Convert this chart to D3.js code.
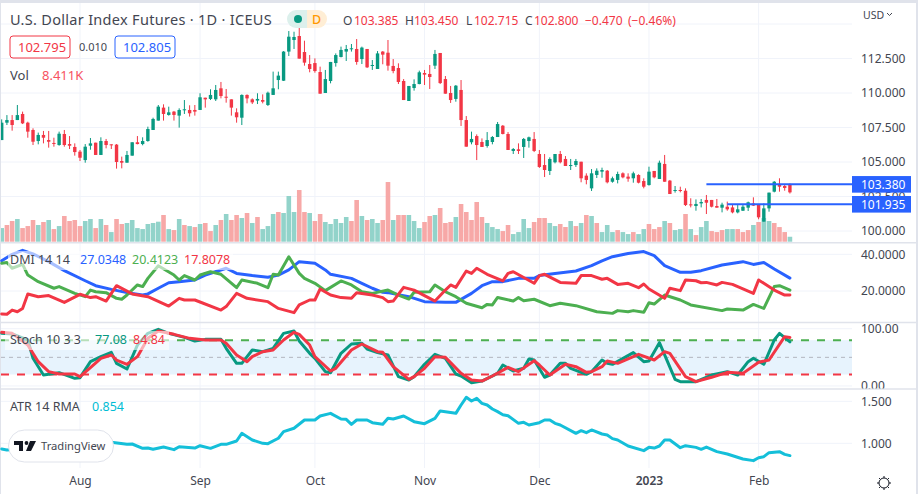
<!DOCTYPE html>
<html>
<head>
<meta charset="utf-8">
<script src="https://cdn.jsdelivr.net/npm/d3@7/dist/d3.min.js"></script>
<style>
html,body{margin:0;padding:0;background:#e0e3eb;overflow:hidden}
svg{display:block}
text{font-family:"Noto Sans",sans-serif}
</style>
</head>
<body>
<svg id="c" width="918" height="494"></svg>
<script>
const opens=[106.59,107.85,108.04,108.04,108.48,107.85,107.32,106.52,106.96,106.59,106.38,106.23,107.03,106.30,106.09,105.75,105.14,106.18,106.40,105.51,106.52,106.28,106.26,105.07,104.95,105.46,106.43,106.30,106.52,107.32,108.00,108.94,108.41,108.65,108.36,108.77,108.77,108.77,108.77,109.66,109.57,109.54,110.34,109.73,109.54,108.60,108.21,109.86,109.54,109.45,109.49,109.13,109.86,110.94,110.89,113.00,113.84,114.13,112.97,112.10,112.17,111.52,110.00,110.87,112.17,112.61,113.00,113.19,113.19,112.46,113.19,111.96,111.74,113.00,112.92,111.96,111.81,110.87,109.42,110.36,110.65,111.45,111.38,111.98,112.90,111.01,110.00,109.57,110.22,108.04,106.43,106.88,106.45,106.16,106.45,106.81,107.63,107.03,105.80,105.92,106.09,106.52,106.67,105.58,104.78,104.35,104.98,105.58,105.22,104.73,104.78,105.02,104.01,103.09,104.06,104.30,104.37,103.57,103.70,104.18,103.94,103.82,104.06,103.62,103.33,104.35,103.77,104.86,103.65,102.90,102.97,102.92,101.93,101.81,102.00,102.25,102.25,101.81,101.69,101.76,101.71,101.35,101.47,101.69,102.00,101.91,100.68,101.64,102.85,103.41,103.26,103.385];
const closes=[107.85,108.04,107.68,108.40,107.80,107.20,106.47,106.96,106.76,106.47,106.33,107.05,106.23,106.18,105.72,105.31,106.11,106.35,105.51,106.52,106.23,106.23,105.00,104.95,105.51,106.43,106.30,106.52,107.39,108.12,109.01,108.48,108.60,108.41,108.77,108.82,108.53,108.65,109.69,109.54,109.86,110.22,109.78,109.69,108.94,108.24,109.86,109.61,109.32,109.57,109.37,110.02,110.34,111.26,113.00,114.08,114.06,112.49,112.20,111.74,111.59,109.95,111.01,112.25,112.75,113.12,113.19,113.24,112.25,113.29,111.86,112.03,112.87,112.78,111.98,111.59,110.80,109.49,110.51,110.65,111.50,111.33,111.16,112.83,110.72,109.95,109.49,110.53,108.04,106.11,106.67,106.23,106.09,106.59,106.81,107.75,107.03,105.87,105.94,105.80,106.67,106.79,105.80,104.64,104.42,105.22,105.58,104.98,104.71,104.78,105.07,103.82,103.70,104.18,104.37,104.42,103.53,103.82,104.13,103.89,103.79,104.18,103.50,103.21,104.30,103.89,104.95,103.57,102.68,102.97,102.90,101.88,101.88,101.96,102.10,102.05,101.76,101.69,101.91,101.57,101.35,101.57,101.76,102.08,101.84,100.99,101.64,102.78,103.57,103.21,103.12,102.80];
const highs=[108.09,108.40,108.40,109.13,108.65,107.92,107.44,107.13,107.25,107.25,106.76,107.20,107.32,106.88,106.35,105.87,106.30,106.74,106.40,106.79,106.67,106.28,106.30,105.39,105.80,106.43,106.88,106.79,107.56,108.21,109.13,109.18,109.01,108.70,108.89,109.49,109.11,109.13,109.98,109.66,110.27,110.58,110.80,110.29,109.54,108.89,109.90,109.90,109.61,109.98,109.90,110.10,111.55,111.55,113.04,114.49,114.44,114.76,113.79,112.75,112.51,111.91,111.67,112.25,112.87,113.36,113.48,113.55,113.91,113.36,113.19,112.39,113.04,113.04,113.84,112.46,112.15,111.01,110.51,110.99,111.62,111.67,112.03,113.12,112.90,111.23,110.51,110.58,110.94,108.33,107.20,107.00,106.71,107.17,106.88,107.90,107.68,107.17,106.01,106.35,106.74,106.84,107.17,105.87,105.58,105.34,105.58,105.80,105.43,105.22,105.22,105.02,104.18,104.49,104.54,104.59,104.42,103.94,104.30,104.25,104.18,104.30,104.11,103.82,104.66,104.35,105.10,105.51,103.70,103.26,103.21,103.09,102.37,102.29,102.32,102.61,102.25,102.32,102.05,102.13,101.88,101.88,101.88,102.13,102.44,101.91,102.00,102.78,103.62,103.82,103.41,103.45];
const lows=[106.59,107.68,107.27,108.04,107.75,106.76,106.23,106.28,106.35,106.04,106.11,106.18,106.11,105.94,105.46,105.07,104.95,105.89,105.51,105.51,105.99,105.94,104.52,104.54,104.95,105.46,106.28,106.21,106.47,107.32,108.00,108.00,108.36,108.00,107.49,108.48,108.29,108.36,108.77,108.94,109.49,109.42,109.61,109.30,108.36,107.85,107.68,109.25,109.20,109.20,109.25,109.06,109.86,110.27,110.87,112.68,113.19,112.49,111.98,111.50,111.47,109.95,110.00,110.70,111.91,112.58,112.32,113.00,112.05,112.10,111.81,111.67,111.74,112.08,111.62,111.43,110.65,109.49,109.42,110.17,110.63,110.58,110.29,111.74,110.65,109.95,109.28,109.37,107.61,106.11,106.28,105.14,106.09,106.04,106.28,106.81,107.00,105.87,105.58,105.58,105.29,106.04,105.72,104.57,103.91,104.06,104.90,104.90,104.71,104.42,104.64,103.53,103.38,102.90,103.84,103.86,103.45,103.50,103.45,103.82,103.57,103.50,103.45,103.09,103.29,103.82,103.77,103.57,102.68,102.78,102.80,101.81,101.71,101.47,101.71,101.23,101.71,101.69,101.35,101.47,101.28,101.28,101.45,101.45,101.81,100.85,100.68,101.40,102.80,102.85,102.92,102.715];
const volumes=[23.2,28.4,35.2,38.6,23.2,26.6,36.9,28.4,33.5,36.9,21.5,26.6,43.7,35.2,36.9,26.6,35.2,38.6,23.2,38.6,28.4,16.4,38.6,30.1,31.8,36.9,23.2,21.5,30.1,31.8,34,45.4,21.5,19.8,38.6,28.4,26.6,24.9,30.1,31.8,18.1,28.4,36.9,47.1,36.9,45.4,40.3,48.8,31.8,42,21.5,26.6,47.1,50.5,48.8,77.7,50.5,87.9,50.5,48.8,35.2,47.1,33.5,30.1,38.6,31.8,42,35.2,70.9,43.7,36.9,38.6,31.8,36.9,101.5,36.9,45.4,45.4,45.4,35.2,23.2,33.5,43.7,45.4,57.3,31.8,33.5,42,64.1,50.5,36.9,67.5,42,31.8,24.9,21.5,18.1,28.4,13,16.4,38.6,23.2,33.5,40.3,40.3,31.8,26.6,30.1,25,35.2,26.6,31.8,45.4,43.7,31.8,16.4,28.4,16.4,19.8,16.4,13,16.4,13,21.5,30.1,21.5,24.9,35.2,31.8,19.8,21.5,47.1,21.5,11.3,24.9,35.2,18.1,16.4,19.8,21.5,21.5,21.5,16.4,19.8,28.4,33.5,40.3,35.2,31.8,24.9,16.4,8.411];
const volumeUp="t s s t s s s t s t s t s s s s t t s t s t s s t t t t t t t s t s t s t s t s s t s t s s t s t s t t t s t t t s s t s s t t t t t s s t s t t s s t s s t t t s s t s s s t s s s s s t t t s s t t t t s s s t t s s t s t s t s t t t s t t s t t s s s t s t t s t s t t s s s t t s s s t s t t s s s t s s t t t s s t s t".split(" ");
const dmiBlue=[[0,36.5],[2,40],[4,42.2],[6,40.2],[9,36],[12,31.1],[16,25.6],[18,22.9],[21,20.9],[24,19.1],[27,17.8],[28,18.4],[30,21.5],[32,24.5],[34,25.1],[37,26],[39,28.7],[43,32.4],[45,29.6],[48,28.4],[51,27.5],[53,28.7],[55,31.5],[57,36],[60,35.1],[62,31.5],[63,29.1],[67,26.9],[69,24.2],[71,21.5],[73,19.3],[74,19.1],[78,16.9],[81,14.2],[85,13.8],[87,13.8],[90,18.7],[92,22.9],[94,25.1],[96,25.1],[99,26.9],[102,26.9],[103,28.4],[106,29.6],[110,30.9],[113,33.8],[115,36.4],[117,38.7],[120,40.5],[123,41.5],[125,39.3],[127,33.8],[130,30.2],[132,30.2],[134,31.1],[138,34.2],[142,36],[144,34.5],[146,35.5],[148,32],[151,27.03]];
const dmiGreen=[[0,35.1],[1,35.5],[2,32.4],[4,34.5],[5,28.7],[7,25.1],[10,21.5],[11,22.4],[14,18.7],[16,16.9],[17,20.5],[18,19.6],[20,19.1],[22,16],[23,15.5],[24,17.8],[26,23.3],[27,22.4],[28,26.9],[30,33.8],[33,28.7],[34,26],[35,28.4],[37,26],[38,28.7],[40,30.5],[42,29.1],[45,21.8],[46,26],[49,24.2],[51,21.8],[52,29.1],[53,28.7],[55,38.7],[57,29.6],[58,26.9],[60,24.2],[62,20.2],[65,25.5],[67,23.3],[69,19.6],[71,18.7],[74,20.5],[76,17.8],[78,15.6],[79,19.3],[82,19.6],[83,23.3],[85,19.6],[87,16.9],[89,13.3],[92,10.9],[93,12.7],[94,12.4],[95,16.5],[98,14.5],[99,16.4],[100,14.7],[102,15.5],[105,12],[107,13.3],[110,12],[114,8.7],[117,7.8],[118,9.3],[120,8.7],[121,9.3],[123,8.4],[124,13.6],[125,12.9],[127,17.8],[130,15.1],[132,12.4],[138,9.3],[139,10.2],[142,9.6],[144,12.7],[146,10.5],[148,22.4],[149,22.9],[151,20.41]];
const dmiRed=[[0,7.5],[1,7.3],[2,9.6],[3,8.7],[4,10.5],[5,18.4],[7,16.9],[9,17.5],[12,13.8],[15,18.2],[17,16.4],[18,16.9],[20,14.5],[22,22.9],[25,18.4],[28,16.9],[32,11.8],[34,16],[35,15.1],[37,15.1],[42,9.6],[43,11.5],[45,18.7],[47,16],[51,14.2],[53,10.5],[56,8.2],[57,12.4],[59,15.1],[60,15.1],[61,21.1],[63,17.8],[65,16.4],[67,16],[68,19.1],[71,17.8],[73,16.4],[74,14.2],[75,14.5],[77,22],[79,20.5],[83,14.5],[85,20.5],[86,23.3],[87,22],[89,30.9],[90,29.6],[91,32.4],[93,29.1],[96,25.5],[97,29.6],[98,30.5],[102,24.2],[103,28.4],[104,29.1],[107,24.7],[110,24.2],[111,28.4],[113,28.4],[115,26.4],[116,26.9],[118,23.6],[120,24.2],[122,21.8],[123,23.8],[124,21.1],[127,16],[128,21.5],[130,20.2],[131,26],[133,25.6],[134,24.5],[135,24.7],[137,23.3],[138,24.7],[140,23.6],[144,18.7],[145,26],[146,24.2],[148,20.5],[150,17.8],[151,17.81]];
const stochK=[[0,91.9],[2,90.8],[5,80.3],[6,48.3],[8,19.1],[9,20.3],[11,23.2],[14,13.3],[15,14.5],[17,42.4],[19,51.2],[21,58.7],[22,39.5],[24,29.6],[26,71.5],[28,91.9],[30,98.9],[32,91.9],[35,84.9],[37,78.5],[39,81.4],[42,81.4],[43,65.7],[45,39.5],[46,39.5],[48,62.8],[50,59.9],[52,65.7],[54,91.9],[56,96],[57,78.5],[59,57],[60,48.3],[62,25],[63,23.2],[65,57],[67,73.3],[69,74.5],[70,64.6],[72,58.2],[74,54.1],[76,16.2],[78,10.4],[79,16.2],[81,37.8],[83,55.2],[85,48.3],[87,20.9],[88,17.4],[90,5.7],[92,8.6],[95,22],[96,36.6],[98,26.1],[100,30.8],[101,47.1],[102,45.3],[104,15.1],[105,19.1],[107,39.5],[108,39.5],[109,30.8],[112,20.3],[113,25],[115,45.3],[116,39.5],[117,37.8],[121,58.2],[123,42.4],[124,43.6],[126,75.6],[129,11.6],[130,7.5],[133,7.5],[136,19.1],[139,25],[141,19.1],[143,42.4],[144,48.3],[146,37.8],[148,80.3],[149,91.9],[151,77.08]];
const stochD=[[0,93.7],[2,91.9],[5,71.5],[7,42.4],[9,25],[11,20.9],[14,20.9],[15,16.2],[17,31.9],[19,48.3],[21,54.1],[22,45.3],[24,37.8],[26,51.2],[28,83.2],[30,96],[33,90.2],[36,83.2],[39,80.3],[42,80.3],[43,74.5],[45,54.1],[47,42.4],[48,51.2],[50,59.9],[52,62.8],[54,80.3],[56,93.7],[57,90.2],[59,71.5],[60,51.2],[63,26.1],[64,30.8],[67,62.8],[69,73.3],[72,59.9],[73,58.7],[75,33.7],[78,11.6],[79,16.2],[81,30.8],[83,51.2],[85,50],[88,22],[90,10.4],[92,8.6],[94,17.4],[97,32.5],[99,25],[102,44.2],[103,36.6],[105,19.1],[108,37.8],[110,33.7],[112,23.8],[113,25],[115,33.7],[116,43.6],[118,39.5],[122,55.2],[125,45.3],[127,59.9],[128,57],[131,16.2],[133,7.5],[136,15.1],[139,23.8],[142,22],[145,41.3],[147,45.3],[150,86.1],[151,84.84]];
const atr=[[0,.933],[1,.921],[21,1.012],[24,.988],[25,.992],[27,.94],[28,.944],[29,.929],[31,.956],[33,.925],[34,.96],[37,.944],[38,.972],[40,.94],[42,.988],[43,.988],[45,1.028],[46,1.119],[48,1.04],[50,1],[51,.996],[53,1.06],[54,1.139],[56,1.179],[58,1.278],[60,1.278],[61,1.325],[63,1.357],[65,1.29],[66,1.286],[67,1.226],[68,1.278],[70,1.278],[71,1.246],[73,1.226],[74,1.298],[75,1.29],[77,1.325],[79,1.258],[81,1.234],[83,1.298],[84,1.385],[87,1.357],[88,1.456],[89,1.548],[90,1.504],[91,1.536],[92,1.476],[93,1.456],[94,1.409],[95,1.377],[96,1.341],[97,1.329],[99,1.238],[100,1.25],[101,1.218],[103,1.246],[104,1.278],[105,1.278],[106,1.238],[107,1.218],[110,1.119],[111,1.151],[112,1.127],[113,1.159],[115,1.111],[116,1.099],[117,1.056],[118,1.04],[120,.968],[123,.913],[124,.952],[125,.944],[126,.968],[127,1.04],[128,1.04],[130,.948],[131,.972],[133,.952],[134,.929],[135,.956],[137,.901],[139,.873],[142,.813],[144,.794],[145,.829],[146,.841],[147,.889],[149,.901],[150,.869],[151,.854]];
const monthBars=[15,38,60,81,103,124,145];
const monthLabels=["Aug","Sep","Oct","Nov","Dec","2023","Feb"];
const priceTicks=[115,112.5,110,107.5,105,102.5,100];
const priceLabelTicks=[112.5,110,107.5,105,102.5,100];
const dmiTicks=[40,20];
const stochTicks=[100,0];
const atrTicks=[1.5,1];
const priceLines=[{value:103.38,bar:135,label:"103.380"},{value:101.935,bar:139,label:"101.935"}];

const GREEN="#089981",RED="#f23645",BLUE="#2962ff",LINEGREEN="#4caf50",CYAN="#00bcd4",GRID="#f0f3fa",TXT="#434651";
const svg=d3.select("#c");
svg.append("rect").attr("x",1).attr("y",3).attr("width",915).attr("height",491).attr("fill","#fff");
const defs=svg.append("defs");
defs.append("clipPath").attr("id","main").append("rect").attr("x",1).attr("y",3).attr("width",851).attr("height",239);
defs.append("clipPath").attr("id","stochAxis").append("rect").attr("x",852).attr("y",323).attr("width",64).attr("height",65.5);
const x=d3.scaleLinear().domain([0,151]).range([1.7,1.7+5.22*151]);
const yP=d3.scaleLinear().domain([100,112.5]).range([231,58.5]);
const yV=d3.scaleLinear().domain([0,100]).range([241.7,182.9]);
const yD=d3.scaleLinear().domain([20,40]).range([291,254.33]);
const yS=d3.scaleLinear().domain([0,100]).range([385.95,328.72]);
const yA=d3.scaleLinear().domain([1,1.5]).range([443.33,401.33]);
svg.append("g").selectAll("line").data(monthBars).join("line").attr("x1",d=>x(d)).attr("x2",d=>x(d)).attr("y1",3).attr("y2",468).attr("stroke",GRID).attr("stroke-width",1);
function hgrid(ticks,s){svg.append("g").selectAll("line").data(ticks).join("line").attr("x1",1).attr("x2",852).attr("y1",d=>s(d)).attr("y2",d=>s(d)).attr("stroke",GRID).attr("stroke-width",1);}
hgrid(priceTicks,yP);hgrid(dmiTicks,yD);hgrid(stochTicks,yS);hgrid(atrTicks,yA);
const idx=d3.range(opens.length);
const main=svg.append("g").attr("clip-path","url(#main)");
main.append("g").selectAll("rect").data(idx).join("rect").attr("x",i=>x(i)-2.3).attr("width",4.6).attr("y",i=>yV(volumes[i])).attr("height",i=>yV(0)-yV(volumes[i])).attr("fill",i=>volumeUp[i]==="t"?"#92d3ca":"#f7a8a7");
const isUp=i=>closes[i]>=opens[i];
main.append("g").selectAll("line").data(idx).join("line").attr("x1",i=>x(i)).attr("x2",i=>x(i)).attr("y1",i=>yP(highs[i])).attr("y2",i=>yP(lows[i])).attr("stroke",i=>isUp(i)?GREEN:RED).attr("stroke-width",1);
main.append("g").selectAll("rect").data(idx).join("rect").attr("x",i=>x(i)-1.7).attr("width",3.4).attr("y",i=>yP(Math.max(opens[i],closes[i]))).attr("height",i=>Math.max(1,Math.abs(yP(opens[i])-yP(closes[i])))).attr("fill",i=>isUp(i)?GREEN:RED);
svg.append("g").selectAll("line").data(priceLines).join("line").attr("x1",d=>x(d.bar)).attr("x2",852).attr("y1",d=>yP(d.value)).attr("y2",d=>yP(d.value)).attr("stroke",BLUE).attr("stroke-width",2);
svg.append("rect").attr("x",1).attr("width",851).attr("y",yS(80)).attr("height",yS(20)-yS(80)).attr("fill","#e7f3fd");
[[80,LINEGREEN,"8 8",2],[50,"#b2b5be","4 4",1],[20,RED,"8 8",2]].forEach(([v,c,dash,w])=>{
 svg.append("line").attr("x1",1).attr("x2",852).attr("y1",yS(v)).attr("y2",yS(v)).attr("stroke",c).attr("stroke-dasharray",dash).attr("stroke-width",w);
});
function plot(data,s,color,w){
 svg.append("path").datum(data).attr("fill","none").attr("stroke",color).attr("stroke-width",w).attr("stroke-linejoin","round").attr("stroke-linecap","round")
  .attr("d",d3.line().x(d=>x(d[0])).y(d=>s(d[1])));
}
plot(dmiBlue,yD,BLUE,3);plot(dmiGreen,yD,LINEGREEN,3);plot(dmiRed,yD,RED,3);
plot(stochK,yS,GREEN,3);plot(stochD,yS,RED,3);
plot(atr,yA,"#14bfd9",3);
[242.7,322.5,389].forEach(y=>svg.append("line").attr("x1",1).attr("x2",916).attr("y1",y).attr("y2",y).attr("stroke","#e0e3eb").attr("stroke-width",1.5));
function rightAxis(s,ticks,fmt){
 const g=svg.append("g").attr("transform","translate(852,0)").call(d3.axisRight(s).tickValues(ticks).tickSize(0).tickPadding(9).tickFormat(fmt));
 g.select(".domain").remove();
 g.selectAll("text").attr("fill",TXT).style("font-size","12px").style("font-family",'"Noto Sans",sans-serif');
}
rightAxis(yP,priceLabelTicks,d3.format(".3f"));
rightAxis(yD,dmiTicks,d3.format(".4f"));
svg.append("g").attr("clip-path","url(#stochAxis)").call(g=>{
 const a=g.append("g").attr("transform","translate(852,0)").call(d3.axisRight(yS).tickValues(stochTicks).tickSize(0).tickPadding(9).tickFormat(d3.format(".2f")));
 a.select(".domain").remove();
 a.selectAll("text").attr("fill",TXT).style("font-size","12px").style("font-family",'"Noto Sans",sans-serif');
});
rightAxis(yA,atrTicks,d3.format(".3f"));
const tAxis=svg.append("g").attr("transform","translate(0,470)").call(d3.axisBottom(x).tickValues(monthBars).tickSize(0).tickPadding(6).tickFormat((d,i)=>monthLabels[i]));
tAxis.select(".domain").remove();
tAxis.selectAll("text").attr("fill",TXT).style("font-size","12px").style("font-family",'"Noto Sans",sans-serif').style("font-weight",(d,i)=>monthLabels[i]==="2023"?600:400);
priceLines.forEach(d=>{
 const y=yP(d.value);
 svg.append("rect").attr("x",852).attr("y",y-8.3).attr("width",59).attr("height",16.6).attr("fill",BLUE);
 svg.append("text").attr("x",861).attr("y",y+4.3).attr("fill","#fff").style("font-size","12px").text(d.label);
});
function txt(x0,y,s,fill,size,weight){return svg.append("text").attr("x",x0).attr("y",y).attr("fill",fill).style("font-size",(size||12)+"px").style("font-weight",weight||400).text(s);}
txt(10,25,"U.S. Dollar Index Futures · 1D · ICEUS","#434651",14.5).style("letter-spacing","0.3px");
svg.append("path").attr("d","M296 10H307V28H296A9 9 0 0 1 296 10Z").attr("fill","#dcf0ec");
svg.append("path").attr("d","M307 10H318A9 9 0 0 1 318 28H307Z").attr("fill","#ffeed5");
svg.append("circle").attr("cx",298).attr("cy",19).attr("r",4).attr("fill",GREEN);
txt(312,24,"D","#ff9800",12.5,500);
[[343,"O","#434651"],[354,"103.385",RED],[405,"H","#434651"],[414,"103.450",RED],[466,"L","#434651"],[474,"102.715",RED],[525,"C","#434651"],[534,"102.800",RED],[585,"−0.470",RED],[628,"(−0.46%)",RED]].forEach(([a,s,c])=>txt(a,25,s,c,12));
svg.append("rect").attr("x",10).attr("y",36).attr("width",60).attr("height",22).attr("rx",3).attr("fill","#fff").attr("stroke",RED);
svg.append("rect").attr("x",115).attr("y",36).attr("width",60).attr("height",22).attr("rx",3).attr("fill","#fff").attr("stroke",BLUE);
txt(18,52,"102.795",RED,13);
txt(79,51,"0.010",TXT,11);
txt(123,52,"102.805",BLUE,13);
txt(10,80,"Vol",TXT,13);
txt(42,80,"8.411K","#f7525f",13);
svg.append("rect").attr("x",8).attr("y",251).attr("width",225).attr("height",19).attr("fill","#fff").attr("fill-opacity",.6);
txt(10,264,"DMI 14 14",TXT,12.5);
txt(80,264,"27.0348",BLUE,12.5);
txt(132,264,"20.4123",LINEGREEN,12.5);
txt(184,264,"17.8078",RED,12.5);
svg.append("rect").attr("x",5).attr("y",331).attr("width",164).attr("height",19).attr("fill","#fff").attr("fill-opacity",.6);
txt(10,344,"Stoch 10 3 3",TXT,12.5);
txt(95,344,"77.08",GREEN,12.5);
txt(133,344,"84.84",RED,12.5);
txt(10,411,"ATR 14 RMA",TXT,12.5);
txt(92,411,"0.854",CYAN,12.5);
svg.append("rect").attr("x",8.5).attr("y",430).attr("width",105).attr("height",32).attr("rx",16).attr("fill","#fff").attr("stroke","#e0e3eb");
svg.append("path").attr("d","M14 441H23V451H19V445H14ZM30 441H36L31 451H26Z").attr("fill","#131722");
svg.append("circle").attr("cx",26.5).attr("cy",443).attr("r",1.9).attr("fill","#131722");
txt(41,450,"TradingView",TXT,11.2);
txt(863,19,"USD",TXT,10.5);
svg.append("path").attr("d","M887 13l2.5 2.5 2.5-2.5").attr("fill","none").attr("stroke",TXT);
const sun=svg.append("g").attr("transform","translate(884,483)").attr("stroke","#131722").attr("fill","none");
sun.append("circle").attr("r",5);
d3.range(8).forEach(k=>{const a=k*Math.PI/4;sun.append("line").attr("x1",5*Math.cos(a)).attr("y1",5*Math.sin(a)).attr("x2",7*Math.cos(a)).attr("y2",7*Math.sin(a));});
</script>
</body>
</html>
